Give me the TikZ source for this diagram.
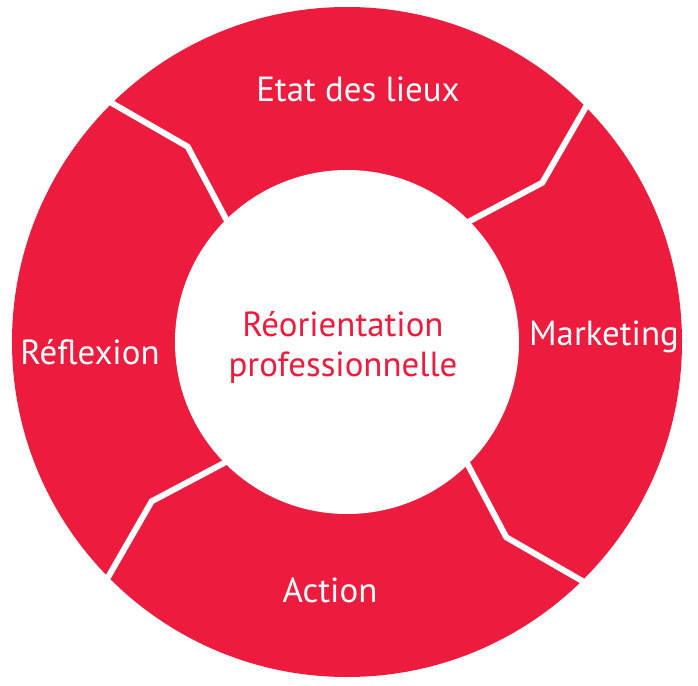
\documentclass[tikz,border=0pt]{standalone}
\usepackage{fontspec}
\setmainfont{PT Sans}
\definecolor{ringred}{RGB}{237,27,61}
\tikzset{
  seglabel/.style={text=white, font=\fontsize{24.8}{28}\selectfont},
  divider/.style={white, line width=0.15cm, line join=miter},
}
\begin{document}
\begin{tikzpicture}[x=0.025cm, y=0.025cm]
\useasboundingbox (-347,-343) rectangle (351,342);

% Draw ring
\fill[ringred] (0,0) circle (335);
\fill[white] (0,0) circle (172);

% Dividers between segments
\foreach \a in {45,135,225,315}
  \draw[divider] (\a:345) -- (\a-5.8:252) -- (\a:168);

% Segment labels
\node[seglabel] (etat) at (11,253) {Etat des lieux};
\node[seglabel] (marketing) at (257,5) {Marketing};
\node[seglabel] (action) at (-17,-248) {Action};
\node[seglabel] (reflexion) at (-257,-10) {Réflexion};

% Centre label
\node[text=ringred, align=center, font=\fontsize{24.8}{28.4}\selectfont] (centre) at (-4,-5) {Réorientation\\professionnelle};
\end{tikzpicture}
\end{document}
